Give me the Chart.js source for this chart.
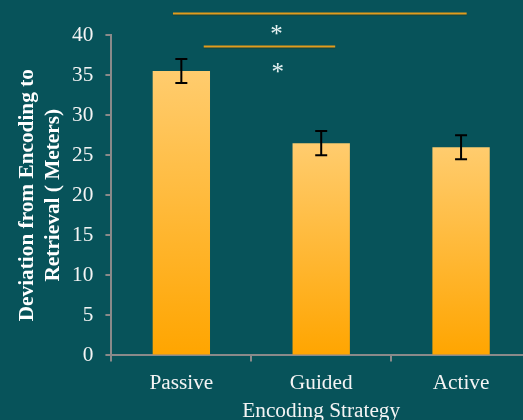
<!DOCTYPE html>
<html>
<head>
<meta charset="utf-8">
<script src="https://cdn.jsdelivr.net/npm/chart.js@4"></script>
<style>
  html, body { margin: 0; padding: 0; background: #07535A; overflow: hidden; }
  #wrap { width: 523px; height: 420px; overflow: hidden; position: relative; }
  canvas { position: absolute; left: 0; top: 0; }
</style>
</head>
<body>
<div id="wrap"><canvas id="c" width="540" height="440"></canvas></div>
<script>
const categories = ['Passive', 'Guided', 'Active'];
const means = [35.5, 26.5, 26.0];
const errors = [1.5, 1.5, 1.5];
const yMin = 0, yMax = 40, yStep = 5;
// significance annotations, in data units (x = category index, y = value)
const bracketFrom = [-0.06, 0.16];
const bracketTo = [2.04, 1.10];
const bracketY = [42.8, 38.6];
const starX = [0.68, 0.69];
const starY = [40.7, 36.0];

const FONT = "'Liberation Serif', 'Times New Roman', serif";
const GREY = '#8a8a8a';
const FS = 21.3;

const errorBarPlugin = {
  id: 'errorBars',
  afterDatasetsDraw(chart) {
    const ctx = chart.ctx;
    const x = chart.scales.x, y = chart.scales.y;
    ctx.save();
    ctx.strokeStyle = '#000';
    ctx.lineWidth = 2;
    means.forEach((m, i) => {
      const cx = x.getPixelForValue(i);
      const top = y.getPixelForValue(m + errors[i]);
      const bot = y.getPixelForValue(m - errors[i]);
      ctx.beginPath();
      ctx.moveTo(cx, top); ctx.lineTo(cx, bot);
      ctx.moveTo(cx - 6, top); ctx.lineTo(cx + 6, top);
      ctx.moveTo(cx - 6, bot); ctx.lineTo(cx + 6, bot);
      ctx.stroke();
    });
    ctx.restore();
  }
};

const sigPlugin = {
  id: 'sig',
  afterDraw(chart) {
    const ctx = chart.ctx;
    const x = chart.scales.x, y = chart.scales.y;
    ctx.save();
    bracketY.forEach((v, i) => {
      const py = Math.round(y.getPixelForValue(v)) + 0.5;
      const x0 = x.getPixelForValue(bracketFrom[i]);
      const x1 = x.getPixelForValue(bracketTo[i]);
      ctx.strokeStyle = 'rgba(60,40,0,0.45)';
      ctx.lineWidth = 1;
      ctx.beginPath(); ctx.moveTo(x0, py + 1.5); ctx.lineTo(x1, py + 1.5); ctx.stroke();
      ctx.strokeStyle = '#E29C1C';
      ctx.lineWidth = 2;
      ctx.beginPath(); ctx.moveTo(x0, py); ctx.lineTo(x1, py); ctx.stroke();
    });
    const fs = 25;
    ctx.font = fs + 'px ' + FONT;
    ctx.fillStyle = '#E6F2F2';
    ctx.textAlign = 'center';
    ctx.textBaseline = 'alphabetic';
    starX.forEach((sx, i) => {
      const px = x.getPixelForValue(sx);
      const py = y.getPixelForValue(starY[i]);
      ctx.fillText('*', px, py + fs * 0.5);
    });
    ctx.restore();
  }
};

function barGradient(context) {
  const chart = context.chart;
  const y = chart.scales && chart.scales.y;
  if (!y || !chart.chartArea) return '#FFB733';
  const v = means[context.dataIndex];
  const top = y.getPixelForValue(v);
  const bot = y.getPixelForValue(0);
  if (!isFinite(top) || !isFinite(bot)) return '#FFB733';
  const g = chart.ctx.createLinearGradient(0, top, 0, bot);
  g.addColorStop(0, '#FFCC6E');
  g.addColorStop(1, '#FFA500');
  return g;
}

new Chart(document.getElementById('c'), {
  type: 'bar',
  data: {
    labels: categories,
    datasets: [{
      data: means,
      backgroundColor: barGradient,
      borderWidth: 0,
      barPercentage: 0.41,
      categoryPercentage: 1.0
    }]
  },
  options: {
    responsive: false,
    animation: false,
    devicePixelRatio: 1,
    layout: { padding: { top: 35, right: 9, left: 0, bottom: 0 } },
    plugins: { legend: { display: false }, tooltip: { enabled: false } },
    scales: {
      x: {
        grid: { display: true, offset: true, drawOnChartArea: false, drawTicks: true, tickLength: 6, color: GREY, lineWidth: 2 },
        border: { display: true, color: GREY, width: 2 },
        ticks: { color: '#F4F4F4', font: { family: FONT, size: FS, lineHeight: 1.0 }, padding: 11 },
        title: {
          display: true, text: 'Encoding Strategy', color: '#F4F4F4',
          font: { family: FONT, size: FS, lineHeight: 1.0 }, padding: { top: -3.5, bottom: 17.5 }
        }
      },
      y: {
        min: yMin, max: yMax,
        grid: { display: true, drawOnChartArea: false, drawTicks: true, tickLength: 6, color: GREY, lineWidth: 2 },
        border: { display: true, color: GREY, width: 2 },
        ticks: { stepSize: yStep, color: '#F4F4F4', font: { family: FONT, size: FS }, padding: 12 },
        title: {
          display: true, text: ['Deviation from Encoding to', 'Retrieval ( Meters)'], color: '#FFFFFF',
          font: { family: FONT, size: FS, weight: 'bold', lineHeight: 1.2 }, padding: { top: 15, bottom: -6 }
        }
      }
    }
  },
  plugins: [errorBarPlugin, sigPlugin]
});
</script>
</body>
</html>
